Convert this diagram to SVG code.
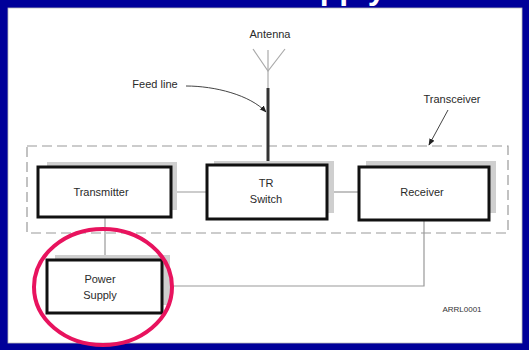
<svg xmlns="http://www.w3.org/2000/svg" width="529" height="350" viewBox="0 0 529 350">
  <defs>
    <style>
      .lbl { font-family: "Liberation Sans", Arial, sans-serif; font-size: 11px; fill: #2a2a2a; text-anchor: middle; }
      .box { fill: #ffffff; stroke: #111111; stroke-width: 3; }
      .shadow { fill: #cfcfcf; }
      .wire { stroke: #999999; stroke-width: 1.2; fill: none; }
      .lead { stroke: #444444; stroke-width: 1; fill: none; }
    </style>
    <marker id="arr" viewBox="0 0 10 10" refX="9" refY="5" markerWidth="7" markerHeight="7" orient="auto-start-reverse">
      <path d="M0,1 L10,5 L0,9 z" fill="#222222"/>
    </marker>
  </defs>

  <rect x="0" y="0" width="529" height="350" fill="#000099"/>
  <text x="174" y="-1" font-family="Liberation Sans, Arial, sans-serif" font-size="32" font-weight="bold" fill="#ffffff">Power Supply</text>
  <rect x="8" y="8" width="514" height="335" fill="#ffffff" stroke="#bbbbbb" stroke-width="0.8"/>

  <g id="transceiver">
    <rect x="27" y="146" width="481" height="87" fill="none" stroke="#9a9a9a" stroke-width="1.2" stroke-dasharray="10,5"/>
    <text class="lbl" x="452" y="103">Transceiver</text>
  </g>

  <g id="connectors">
    <line class="wire" x1="171" y1="192" x2="207" y2="192"/>
    <line class="wire" x1="327" y1="192" x2="359" y2="192"/>
    <line class="wire" x1="105" y1="217" x2="105" y2="260"/>
    <polyline class="wire" points="424,220 424,286 162,286"/>
    <line x1="268" y1="88" x2="268" y2="165" stroke="#333333" stroke-width="3"/>
    <path class="lead" d="M186,86 C215,86 250,95 266,112" marker-end="url(#arr)"/>
    <line class="lead" x1="448" y1="110" x2="429" y2="145" marker-end="url(#arr)"/>
  </g>

  <g id="antenna">
    <line x1="268" y1="50" x2="268" y2="88" stroke="#aaaaaa" stroke-width="1.2"/>
    <polyline points="253,49 268,71 285,49" fill="none" stroke="#aaaaaa" stroke-width="1.2"/>
    <text class="lbl" x="270" y="38">Antenna</text>
  </g>

  <g id="feedline">
    <text class="lbl" x="155" y="88">Feed line</text>
  </g>

  <g id="transmitter">
    <rect class="shadow" x="47" y="162" width="130" height="48"/>
    <rect class="box" x="38" y="167" width="133" height="50"/>
    <text class="lbl" x="101" y="196">Transmitter</text>
  </g>

  <g id="tr-switch">
    <rect class="shadow" x="214" y="161" width="120" height="52"/>
    <rect class="box" x="207" y="165" width="120" height="54"/>
    <text class="lbl" x="266" y="187">TR</text>
    <text class="lbl" x="266" y="203">Switch</text>
  </g>

  <g id="receiver">
    <rect class="shadow" x="366" y="161" width="130" height="52"/>
    <rect class="box" x="359" y="167" width="130" height="53"/>
    <text class="lbl" x="422" y="196">Receiver</text>
  </g>

  <g id="power-supply">
    <rect class="shadow" x="55" y="255" width="115" height="50"/>
    <rect class="box" x="47" y="260" width="115" height="53"/>
    <text class="lbl" x="100" y="283">Power</text>
    <text class="lbl" x="100" y="299">Supply</text>
  </g>

  <g id="label-arrl">
    <text x="462" y="312" font-family="Liberation Sans, Arial, sans-serif" font-size="8" fill="#333333" text-anchor="middle">ARRL0001</text>
  </g>

  <g id="highlight">
    <ellipse cx="103" cy="287" rx="69" ry="58" fill="none" stroke="#e8135e" stroke-width="4"/>
  </g>
</svg>
